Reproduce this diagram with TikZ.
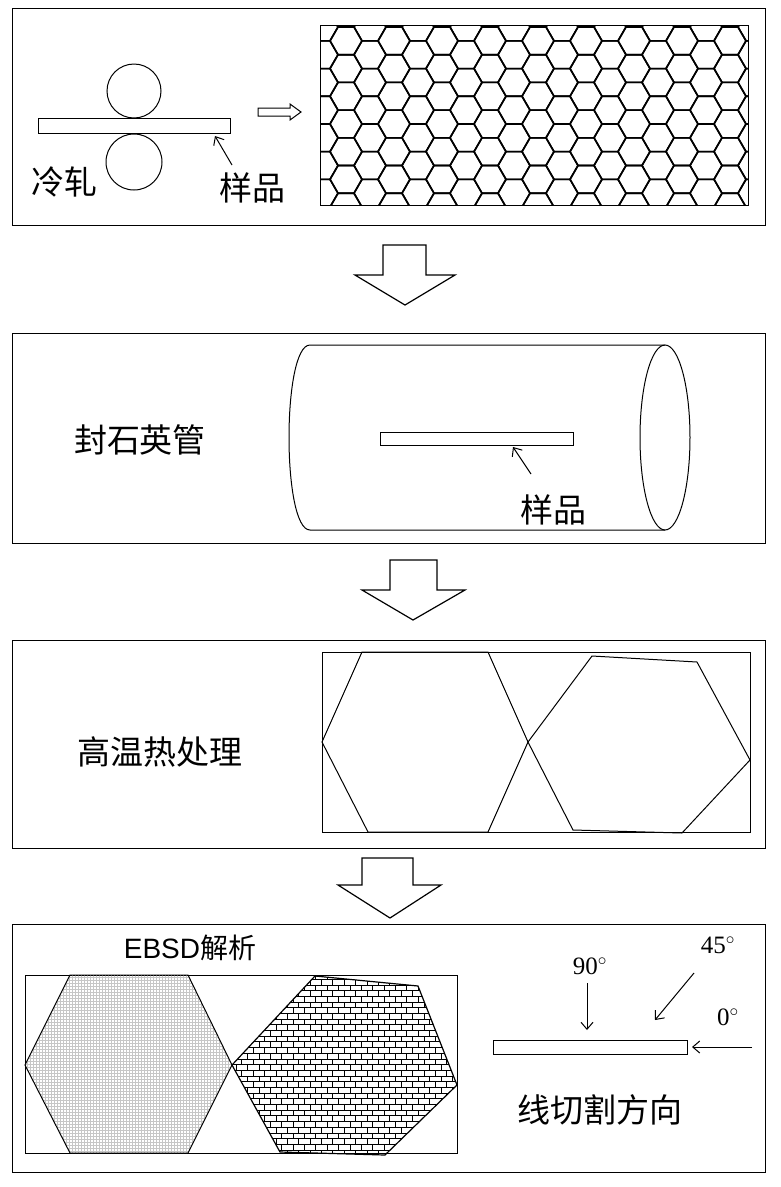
\documentclass[tikz,border=0pt]{standalone}
\usepackage{fontspec}
\setmainfont{Liberation Serif}
\newfontfamily\cjk{Noto Sans CJK SC}
\newfontfamily\arial{Liberation Sans}
\usetikzlibrary{patterns,arrows.meta}
\begin{document}
\begin{tikzpicture}[x=1pt,y=-1pt,line width=1pt,
  panel/.style={draw,line width=1.2pt},
  cn/.style={font=\cjk\fontsize{33}{35}\selectfont,inner sep=0pt},
  deg/.style={font=\fontsize{25}{27}\selectfont,inner sep=0pt},
  sarrow/.style={-{Straight Barb[length=7pt,width=12pt]},line width=1pt},
  hollow/.style={draw,line width=1.2pt,fill=white}]
\useasboundingbox (0,0) rectangle (781,1187);
% ---- panel 1
\node[panel,minimum width=753,minimum height=217,anchor=north west,inner sep=0] (p1) at (12,8) {};
\draw (134,91) circle (27);
\draw (134,162) circle (28);
\node[draw,fill=white,minimum width=192,minimum height=15,inner sep=0,anchor=north west] (s1) at (38,118) {};
\node[cn] (l1) at (252,188) {样品};
\coordinate (a1) at (232,165);
\draw[sarrow] (a1) -- (215,136);
\node[cn] (c1) at (64,182) {冷轧};
\draw[line width=1pt] (258,108) -- (290,108) -- (290,104) -- (301,112) -- (290,120) -- (290,116) -- (258,116) -- cycle;
\begin{scope}
\clip (320,25) rectangle (748,205);
\foreach \i in {0,...,19}{
  \foreach \j in {-1,...,7}{
    \pgfmathsetmacro{\cx}{322+24*\i}
    \pgfmathsetmacro{\cy}{27+27.7*\j+13.85*mod(\i,2)}
    \draw[line width=1.6pt] (\cx+16,\cy) -- (\cx+8,\cy+13.85) -- (\cx-8,\cy+13.85) -- (\cx-16,\cy) -- (\cx-8,\cy-13.85) -- (\cx+8,\cy-13.85) -- cycle;
  }}
\end{scope}
\node[draw,line width=1.2pt,minimum width=428,minimum height=180,anchor=north west,inner sep=0] (g1) at (320,25) {};
% big arrow 1
\draw[hollow] (383,245) -- (426,245) -- (426,275) -- (455,275) -- (405,305) -- (355,275) -- (383,275) -- cycle;
% ---- panel 2
\node[panel,minimum width=753,minimum height=210,anchor=north west,inner sep=0] (p2) at (12,333) {};
\draw (665,345) -- (310,345) .. controls (282,345) and (282,530) .. (310,530) -- (665,530);
\draw (665,437.5) ellipse (25 and 92.5);
\node[draw,fill=white,minimum width=193,minimum height=13,inner sep=0,anchor=north west] (s2) at (380,432) {};
\node[cn] (l2) at (553,510) {样品};
\draw[sarrow] (531,474) -- (513,447);
\node[cn] (c2) at (140,440) {封石英管};
\draw[hollow] (390,560) -- (437,560) -- (437,590) -- (465,590) -- (413,620) -- (362,590) -- (390,590) -- cycle;
% ---- panel 3
\node[panel,minimum width=753,minimum height=208,anchor=north west,inner sep=0] (p3) at (12,640) {};
\node[draw,line width=1pt,minimum width=428,minimum height=180,anchor=north west,inner sep=0] (g3) at (322,652) {};
\draw (362,652) -- (488,652) -- (528,742) -- (488,832) -- (368,832) -- (322,742) -- cycle;
\draw (528,742) -- (592,656) -- (697,662) -- (750,760) -- (682,833) -- (573,830) -- cycle;
\node[cn] (c3) at (160,752) {高温热处理};
\draw[hollow] (362,858) -- (413,858) -- (413,885) -- (441,885) -- (390,918) -- (338,885) -- (362,885) -- cycle;
% ---- panel 4
\node[panel,minimum width=753,minimum height=248,anchor=north west,inner sep=0] (p4) at (12,924) {};
\node[draw,line width=1pt,minimum width=432,minimum height=178,anchor=north west,inner sep=0] (g4) at (25,975) {};
\draw[pattern=grid,pattern color=gray!45] (70,975) -- (188,975) -- (232,1065) -- (188,1153) -- (70,1153) -- (25,1065) -- cycle;
\draw[pattern=bricks,line width=1.2pt] (232,1065) -- (315,976) -- (418,986) -- (457,1085) -- (385,1155) -- (280,1152) -- cycle;
\node[font=\arial\fontsize{28}{30}\selectfont,inner sep=0] (e4) at (190,948) {EBSD{\cjk 解析}};
\node[draw,line width=1.3pt,fill=white,minimum width=194,minimum height=14,inner sep=0,anchor=north west] (s4) at (493,1040) {};
\node[deg] (d90) at (590,966) {90$^\circ$};
\node[deg] (d45) at (718,945) {45$^\circ$};
\node[deg] (d0) at (728,1017) {0$^\circ$};
\draw[sarrow] (587,983) -- (587,1030);
\draw[sarrow] (694,973) -- (655,1020);
\draw[sarrow] (752,1047) -- (692,1047);
\node[cn] (c4) at (600,1110) {线切割方向};
\end{tikzpicture}
\end{document}
